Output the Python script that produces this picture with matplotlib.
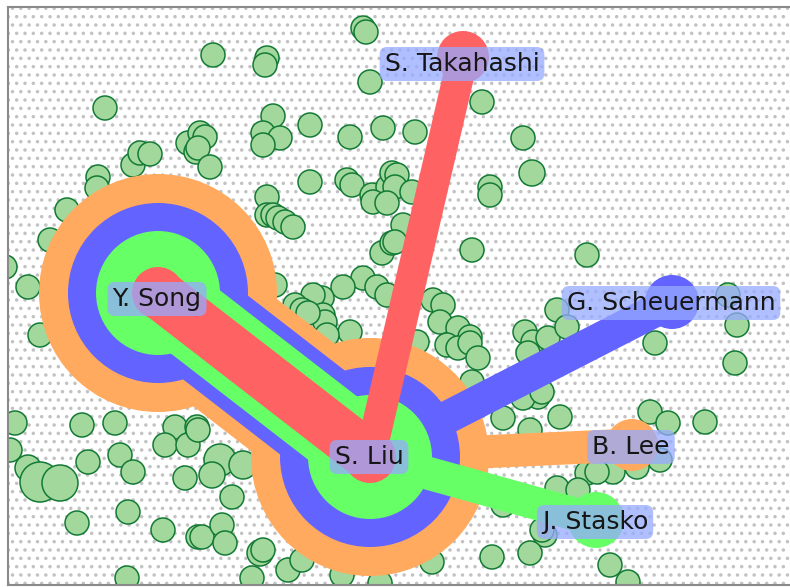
import matplotlib
matplotlib.use('Agg')
import matplotlib.pyplot as plt
from matplotlib.patches import Circle, Rectangle

# co-author nodes (pixel space of the view)
names = ['S. Liu', 'Y. Song', 'S. Takahashi', 'G. Scheuermann', 'B. Lee', 'J. Stasko']
node_x = [370, 158, 463, 672, 632, 596]
node_y = [457, 293, 57, 302, 445, 520]

# S. Liu -> Y. Song is shared by all four relation layers,
# each other author is linked by one layer
layer_names = ['orange', 'blue', 'green', 'red']
single_target = ['B. Lee', 'G. Scheuermann', 'J. Stasko', 'S. Takahashi']

# other authors (green bubbles)
gx = [105, 133, 140, 150, 188, 196, 200, 98, 97,
      213, 267, 265, 363, 366, 370, 273, 310, 350, 383, 263, 280, 263, 205, 198, 210, 310, 347, 352, 372, 388, 392, 267,
      482, 415, 523, 532, 490, 397, 395, 412,
      67, 50, 5, 28, 40,
      267, 273, 278, 285, 293, 373, 387, 382, 392, 363, 377, 343, 387, 322, 313, 295, 302, 323, 325, 308, 350, 327, 275,
      403, 395, 490, 472, 587, 433, 443, 440, 458, 470, 447, 458, 470, 478, 525, 533, 548, 557, 567, 528, 537, 472, 417,
      655, 737, 728, 735,
      15, 10, 28, 40, 60, 82, 115, 88, 120, 133, 175, 165, 188, 197, 185, 77, 128, 163, 127, 198,
      198, 220, 212, 232, 243, 202, 222, 225, 260, 263, 288, 252, 302, 342, 380,
      503, 560, 530, 538, 523, 542, 587, 557, 578, 545, 542, 492, 530, 432, 503,
      650, 668, 705, 660, 637, 613, 597, 610, 628]
gy = [108, 165, 153, 154, 143, 152, 133, 177, 188,
      55, 58, 65, 28, 32, 82, 116, 125, 137, 128, 133, 138, 145, 137, 148, 167, 182, 180, 185, 195, 187, 173, 197,
      102, 132, 138, 173, 187, 175, 187, 192,
      210, 240, 267, 287, 335,
      215, 215, 218, 222, 227, 202, 203, 253, 243, 278, 287, 287, 295, 298, 295, 305, 310, 315, 322, 313, 332, 335, 285,
      225, 242, 195, 250, 255, 300, 305, 322, 328, 337, 345, 348, 343, 358, 332, 342, 338, 310, 327, 353, 388, 382, 342,
      343, 325, 295, 363,
      423, 450, 468, 482, 483, 425, 423, 462, 455, 472, 427, 445, 445, 427, 478, 523, 512, 530, 578, 537,
      430, 460, 475, 497, 465, 537, 525, 543, 553, 550, 570, 578, 560, 575, 583,
      418, 417, 430, 397, 398, 392, 473, 488, 490, 535, 530, 557, 553, 562, 505,
      412, 423, 422, 460, 467, 472, 472, 565, 582]
big = {(28, 468): 26, (40, 482): 40, (60, 483): 36, (220, 460): 32, (212, 475): 26,
       (243, 465): 28, (260, 553): 26, (532, 173): 26}
gd = [big.get((x, y), 24) for x, y in zip(gx, gy)]

# styles
layer_colors = ['#ffaa5e', '#6363ff', '#66ff66', '#ff6262']
shared_width = [136, 106, 80, 50]   # px
shared_radius = [119, 90, 62, 26]
single_width = [33, 33, 33, 31]
single_radius = [26, 27, 28, 26]
PT = 0.72  # points per pixel at dpi 100

plt.rcParams['hatch.color'] = '#c2c2c2'
plt.rcParams['hatch.linewidth'] = 1.3

fig = plt.figure(figsize=(7.9, 5.87), dpi=100)
ax = fig.add_axes([8 / 790, 2 / 587, 784 / 790, 578 / 587])
ax.set_xlim(8, 792)
ax.set_ylim(585, 7)
ax.set_xticks([])
ax.set_yticks([])
for s in ['top', 'left', 'bottom']:
    ax.spines[s].set_color('#8a8a8a')
    ax.spines[s].set_linewidth(1.5)
ax.spines['right'].set_visible(False)

# speckled background
ax.add_patch(Rectangle((8, 7), 784, 578, facecolor='white', edgecolor='#c2c2c2',
                       hatch='..', linewidth=0, zorder=0))

for x, y, d in zip(gx, gy, gd):
    ax.add_patch(Circle((x, y), d / 2, facecolor='#a2d89c', edgecolor='#137a36',
                        linewidth=1.1, zorder=1))

pos = dict(zip(names, zip(node_x, node_y)))
x0, y0 = pos['S. Liu']
x1, y1 = pos['Y. Song']
for k in range(4):
    c = layer_colors[k]
    z = 2 + k
    # single link
    tx, ty = pos[single_target[k]]
    ax.plot([x0, tx], [y0, ty], color=c, lw=single_width[k] * PT,
            solid_capstyle='butt', zorder=z)
    ax.add_patch(Circle((tx, ty), single_radius[k], color=c, lw=0, zorder=z))
    # shared link
    ax.plot([x0, x1], [y0, y1], color=c, lw=shared_width[k] * PT,
            solid_capstyle='butt', zorder=z)
    for nx, ny in [(x0, y0), (x1, y1)]:
        ax.add_patch(Circle((nx, ny), shared_radius[k], color=c, lw=0, zorder=z))

label_dy = [0, 6, 7, 1, 2, 2]
for n, dy in zip(names, label_dy):
    x, y = pos[n]
    ax.text(x - 1, y + dy, n, ha='center', va='center', fontsize=18, color='#161616',
            zorder=10,
            bbox=dict(boxstyle='round,pad=0.2,rounding_size=0.3',
                      facecolor='#96aaff', alpha=0.75, edgecolor='none'))

fig.savefig('out.png', dpi=100)
